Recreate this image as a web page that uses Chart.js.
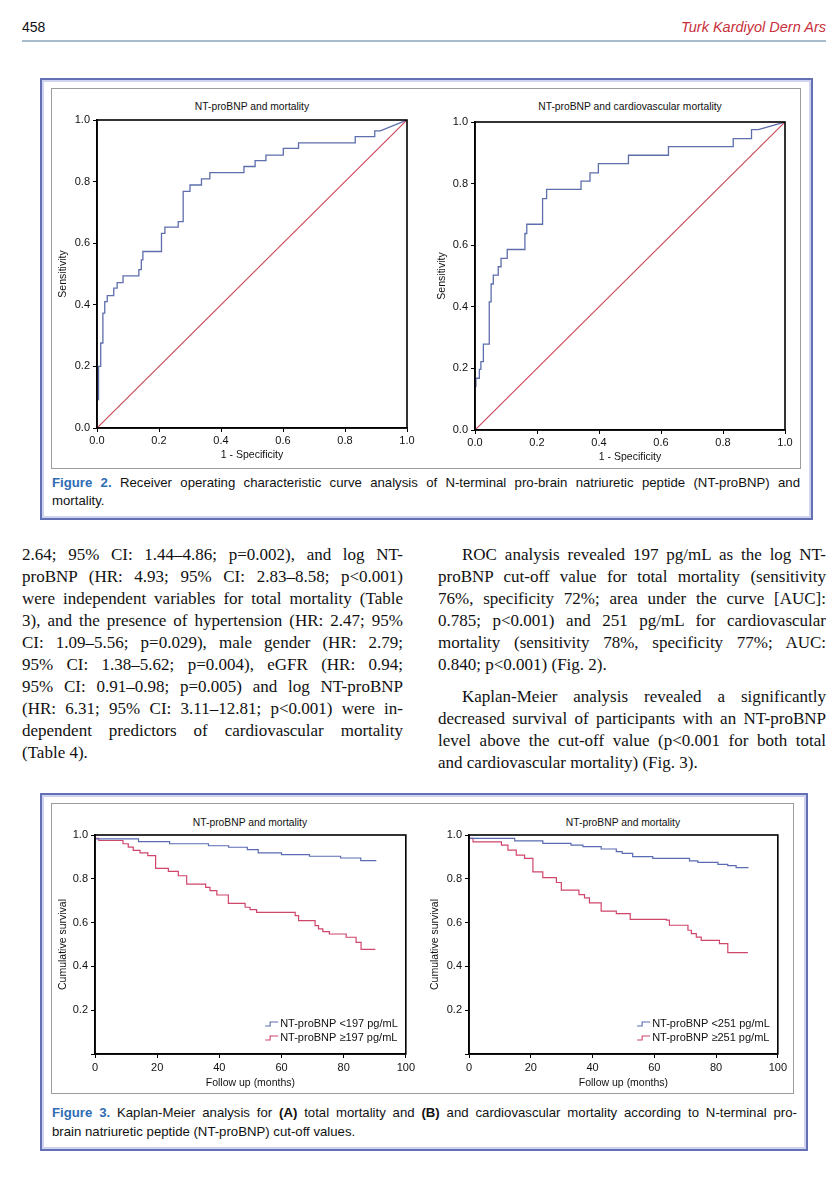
<!DOCTYPE html>
<html><head><meta charset="utf-8">
<script src="https://cdn.jsdelivr.net/npm/chart.js@4.4.1/dist/chart.umd.min.js"></script>
<style>
html,body{margin:0;padding:0;}
body{width:836px;height:1200px;position:relative;background:#fff;overflow:hidden;font-family:"Liberation Sans",Arial,sans-serif;color:#111;}
.abs{position:absolute;}
canvas{position:absolute;}
.bluebox{position:absolute;border:2px solid #6370b4;box-shadow:inset 0 0 0 2px #cfd3ee;box-sizing:border-box;}
.graybox{position:absolute;border:1.5px solid #9c9c9c;box-sizing:border-box;}
.ctitle{position:absolute;font-size:10.3px;line-height:12px;white-space:nowrap;transform:translate(-50%,-50%);color:#111;}
.jl{position:absolute;white-space:nowrap;}
.body{font-family:"Liberation Serif","Times New Roman",serif;font-size:17px;line-height:22px;color:#111;}
.cap{font-size:13.2px;line-height:16px;color:#111;}
.cap b.fig{color:#2f6cb3;}
</style></head><body>

<div class="abs" style="left:22px;top:19px;font-size:14px;line-height:16px;">458</div>
<div class="abs" style="right:10px;top:19px;font-size:14.5px;line-height:16px;font-style:italic;color:#c8303c;">Turk Kardiyol Dern Ars</div>
<div class="abs" style="left:22px;top:40px;width:804px;height:1.5px;background:#aabbca;"></div>

<!-- Figure 2 frame -->
<div class="bluebox" style="left:40px;top:78px;width:773px;height:442px;"></div>
<div class="graybox" style="left:51px;top:88px;width:750px;height:381px;"></div>
<div class="ctitle" style="left:252px;top:107px;">NT-proBNP and mortality</div>
<div class="ctitle" style="left:630px;top:107px;">NT-proBNP and cardiovascular mortality</div>
<canvas id="roc1"></canvas>
<canvas id="roc2"></canvas>
<div class="jl cap" data-w="748" style="left:52px;top:475px;"><b class="fig">Figure 2.</b> Receiver operating characteristic curve analysis of N-terminal pro-brain natriuretic peptide (NT-proBNP) and</div>
<div class="jl cap" style="left:52px;top:493px;">mortality.</div>

<!-- Body text -->
<div class="jl body" data-w="381" style="left:22px;top:544px;">2.64; 95% CI: 1.44–4.86; p=0.002), and log NT-</div>
<div class="jl body" data-w="381" style="left:22px;top:566px;">proBNP (HR: 4.93; 95% CI: 2.83–8.58; p&lt;0.001)</div>
<div class="jl body" data-w="381" style="left:22px;top:588px;">were independent variables for total mortality (Table</div>
<div class="jl body" data-w="381" style="left:22px;top:610px;">3), and the presence of hypertension (HR: 2.47; 95%</div>
<div class="jl body" data-w="381" style="left:22px;top:632px;">CI: 1.09–5.56; p=0.029), male gender (HR: 2.79;</div>
<div class="jl body" data-w="381" style="left:22px;top:654px;">95% CI: 1.38–5.62; p=0.004), eGFR (HR: 0.94;</div>
<div class="jl body" data-w="381" style="left:22px;top:676px;">95% CI: 0.91–0.98; p=0.005) and log NT-proBNP</div>
<div class="jl body" data-w="381" style="left:22px;top:698px;">(HR: 6.31; 95% CI: 3.11–12.81; p&lt;0.001) were in-</div>
<div class="jl body" data-w="381" style="left:22px;top:720px;">dependent predictors of cardiovascular mortality</div>
<div class="jl body" style="left:22px;top:742px;">(Table 4).</div>

<div class="jl body" data-w="364" style="left:462px;top:544px;">ROC analysis revealed 197 pg/mL as the log NT-</div>
<div class="jl body" data-w="388" style="left:438px;top:566px;">proBNP cut-off value for total mortality (sensitivity</div>
<div class="jl body" data-w="388" style="left:438px;top:588px;">76%, specificity 72%; area under the curve [AUC]:</div>
<div class="jl body" data-w="388" style="left:438px;top:610px;">0.785; p&lt;0.001) and 251 pg/mL for cardiovascular</div>
<div class="jl body" data-w="388" style="left:438px;top:632px;">mortality (sensitivity 78%, specificity 77%; AUC:</div>
<div class="jl body" style="left:438px;top:654px;">0.840; p&lt;0.001) (Fig. 2).</div>
<div class="jl body" data-w="364" style="left:462px;top:686px;">Kaplan-Meier analysis revealed a significantly</div>
<div class="jl body" data-w="388" style="left:438px;top:708px;">decreased survival of participants with an NT-proBNP</div>
<div class="jl body" data-w="388" style="left:438px;top:730px;">level above the cut-off value (p&lt;0.001 for both total</div>
<div class="jl body" style="left:438px;top:752px;">and cardiovascular mortality) (Fig. 3).</div>

<!-- Figure 3 frame -->
<div class="bluebox" style="left:40px;top:793px;width:768px;height:358px;"></div>
<div class="graybox" style="left:51px;top:803px;width:743px;height:291px;"></div>
<div class="ctitle" style="left:250px;top:823px;">NT-proBNP and mortality</div>
<div class="ctitle" style="left:623px;top:823px;">NT-proBNP and mortality</div>
<canvas id="km1"></canvas>
<canvas id="km2"></canvas>
<div class="jl cap" data-w="745" style="left:52px;top:1105px;"><b class="fig">Figure 3.</b> Kaplan-Meier analysis for <b>(A)</b> total mortality and <b>(B)</b> and cardiovascular mortality according to N-terminal pro-</div>
<div class="jl cap" style="left:52px;top:1124px;">brain natriuretic peptide (NT-proBNP) cut-off values.</div>

<script>
// ---------- DATA ----------
const rocAxisTicks = [0, 0.2, 0.4, 0.6, 0.8, 1.0];
const kmXTicks = [0, 20, 40, 60, 80, 100];
const kmYTicks = [0.2, 0.4, 0.6, 0.8, 1.0];

// ROC - total mortality (1 - specificity, sensitivity)
const rocTotalFpr = [0.003, 0.005, 0.012, 0.019, 0.025, 0.033, 0.054, 0.065, 0.084, 0.135, 0.143, 0.148, 0.208, 0.219, 0.262, 0.278, 0.300, 0.337, 0.364, 0.474, 0.510, 0.545, 0.601, 0.650, 0.833, 0.896, 0.914, 1.0];
const rocTotalTpr = [0.092, 0.200, 0.276, 0.373, 0.410, 0.430, 0.454, 0.472, 0.494, 0.514, 0.546, 0.573, 0.632, 0.652, 0.670, 0.768, 0.789, 0.809, 0.829, 0.849, 0.868, 0.886, 0.908, 0.926, 0.946, 0.965, 0.965, 1.0];

// ROC - cardiovascular mortality
const rocCvFpr = [0.003, 0.003, 0.014, 0.019, 0.027, 0.046, 0.052, 0.059, 0.075, 0.084, 0.104, 0.161, 0.167, 0.218, 0.231, 0.342, 0.371, 0.398, 0.495, 0.624, 0.833, 0.892, 0.914, 1.0];
const rocCvTpr = [0.140, 0.168, 0.197, 0.222, 0.279, 0.416, 0.474, 0.503, 0.530, 0.557, 0.586, 0.638, 0.668, 0.751, 0.781, 0.808, 0.835, 0.865, 0.892, 0.920, 0.946, 0.975, 0.975, 1.0];

const refLineX = [0, 1];
const refLineY = [0, 1];

// Kaplan-Meier - total mortality
const kmTotalLabels = ['NT-proBNP <197 pg/mL', 'NT-proBNP \u2265197 pg/mL'];
const kmTotalLowT = [0, 14, 24, 36.5, 43, 49, 52.5, 60, 69, 79, 85.5, 89.5, 90.5];
const kmTotalLowS = [1.0, 0.982, 0.970, 0.960, 0.951, 0.944, 0.933, 0.918, 0.910, 0.903, 0.895, 0.883, 0.883];
const kmTotalHighT = [0, 1.2, 9, 10.7, 12.3, 14.5, 17, 19.5, 23.6, 26.8, 29.5, 35.6, 37, 39.2, 42.9, 48.3, 49.9, 52, 64.4, 65.5, 70.8, 71.9, 73.3, 75.4, 80.8, 84, 85.6, 86.7, 90.2];
const kmTotalHighS = [1.0, 0.985, 0.975, 0.960, 0.945, 0.930, 0.918, 0.906, 0.848, 0.834, 0.814, 0.776, 0.761, 0.746, 0.726, 0.688, 0.670, 0.659, 0.647, 0.632, 0.609, 0.586, 0.571, 0.559, 0.548, 0.533, 0.510, 0.478, 0.478];

// Kaplan-Meier - cardiovascular mortality
const kmCvLabels = ['NT-proBNP <251 pg/mL', 'NT-proBNP \u2265251 pg/mL'];
const kmCvLowT = [0, 14.8, 23.9, 33, 36.9, 42.8, 47.7, 49.6, 53, 59.5, 71.4, 74.1, 80.6, 83.8, 86.5, 89.5, 90.5];
const kmCvLowS = [1.0, 0.985, 0.973, 0.962, 0.954, 0.947, 0.936, 0.924, 0.916, 0.901, 0.893, 0.882, 0.875, 0.866, 0.860, 0.851, 0.851];
const kmCvHighT = [0, 1.3, 10.5, 12.6, 15.3, 18, 20.7, 23.9, 28.3, 29.9, 35.6, 37.4, 39, 42.8, 47.7, 52.2, 63.9, 64.9, 70.9, 72, 73.6, 75.2, 81.1, 83.8, 86, 90.3];
const kmCvHighS = [1.0, 0.985, 0.969, 0.954, 0.931, 0.908, 0.893, 0.832, 0.805, 0.783, 0.748, 0.728, 0.713, 0.690, 0.652, 0.641, 0.615, 0.611, 0.588, 0.565, 0.550, 0.534, 0.519, 0.504, 0.463, 0.463];

// ---------- helpers ----------
const BLUE = '#5e6eac', RED = '#cc4a5e', KMBLUE = '#5a6bb2', KMRED = '#d0456a';
Chart.defaults.font.family = '"Liberation Sans", Arial, sans-serif';
Chart.defaults.color = '#111';

function rocPath(xs, ys) {
  const pts = [{x: xs[0], y: ys[0]}];
  for (let i = 1; i < xs.length; i++) {
    if (i < xs.length - 1) pts.push({x: xs[i], y: ys[i - 1]});
    pts.push({x: xs[i], y: ys[i]});
  }
  return pts;
}
function zip(xs, ys) { return xs.map((x, i) => ({x: x, y: ys[i]})); }

const framePlugin = {
  id: 'frame',
  afterDatasetsDraw(chart) {
    const {ctx, chartArea: a} = chart;
    ctx.save(); ctx.strokeStyle = '#000'; ctx.lineWidth = 1.6;
    ctx.strokeRect(a.left, a.top, a.right - a.left, a.bottom - a.top);
    ctx.restore();
  }
};
const kmLegendPlugin = {
  id: 'kmLegend',
  afterDraw(chart) {
    const {ctx, chartArea: a} = chart;
    const ds = chart.data.datasets;
    ctx.save();
    ctx.font = '11px "Liberation Sans", Arial, sans-serif';
    ctx.textBaseline = 'middle';
    const w = Math.max(...ds.map(d => ctx.measureText(d.label).width));
    const tx = a.right - 8 - w;
    ds.forEach((d, i) => {
      const y = a.bottom - 30 + i * 14;
      ctx.fillStyle = '#111';
      ctx.fillText(d.label, tx, y);
      ctx.strokeStyle = d.borderColor; ctx.lineWidth = 1.1;
      ctx.beginPath();
      ctx.moveTo(tx - 15, y + 2); ctx.lineTo(tx - 10, y + 2); ctx.lineTo(tx - 10, y - 2); ctx.lineTo(tx - 2, y - 2);
      ctx.stroke();
    });
    ctx.restore();
  }
};

function axis(opts) {
  return {
    type: 'linear', min: opts.min, max: opts.max,
    afterBuildTicks(s) { s.ticks = opts.ticks.map(v => ({value: v})); },
    ticks: {font: {size: 11}, color: '#111', padding: opts.pad, callback: opts.cb, autoSkip: false, maxRotation: 0},
    grid: {display: true, drawOnChartArea: false, drawTicks: true, tickLength: 4, color: '#000', lineWidth: 1},
    border: {display: true, color: '#000', width: 1.6},
    title: {display: true, text: opts.title, font: {size: 10.5}, color: '#111', padding: 0},
    afterFit: opts.fit
  };
}

function makeChart(id, box, plot, datasets, xo, yo, plugins) {
  const cv = document.getElementById(id);
  cv.width = box.w; cv.height = box.h;
  cv.style.left = box.x + 'px'; cv.style.top = box.y + 'px';
  cv.style.width = box.w + 'px'; cv.style.height = box.h + 'px';
  const yW = plot.l - box.x, xH = box.y + box.h - plot.b;
  xo.fit = s => { s.height = xH; };
  yo.fit = s => { s.width = yW; };
  return new Chart(cv, {
    type: 'scatter',
    data: {datasets: datasets},
    options: {
      responsive: false, animation: false, events: [],
      layout: {padding: {top: plot.t - box.y, right: box.x + box.w - plot.r, left: 0, bottom: 0}},
      plugins: {legend: {display: false}, tooltip: {enabled: false}},
      scales: {x: axis(xo), y: axis(yo)}
    },
    plugins: plugins
  });
}

const fmt1 = v => Number(v).toFixed(1);

function rocDatasets(xs, ys) {
  return [
    {label: 'Reference', data: zip(refLineX, refLineY), showLine: true, borderColor: RED, borderWidth: 1.2, pointRadius: 0},
    {label: 'ROC', data: rocPath(xs, ys), showLine: true, borderColor: BLUE, borderWidth: 1.3, pointRadius: 0}
  ];
}
function kmDatasets(labels, lt, ls, ht, hs) {
  return [
    {label: labels[0], data: zip(lt, ls), showLine: true, stepped: 'after', borderColor: KMBLUE, borderWidth: 1.2, pointRadius: 0},
    {label: labels[1], data: zip(ht, hs), showLine: true, stepped: 'after', borderColor: KMRED, borderWidth: 1.2, pointRadius: 0}
  ];
}

makeChart('roc1', {x: 57, y: 95, w: 362, h: 366}, {l: 97, t: 120, r: 407, b: 428},
  rocDatasets(rocTotalFpr, rocTotalTpr),
  {min: 0, max: 1, ticks: rocAxisTicks, cb: fmt1, title: '1 - Specificity', pad: 2},
  {min: 0, max: 1, ticks: rocAxisTicks, cb: fmt1, title: 'Sensitivity', pad: 3},
  [framePlugin]);

makeChart('roc2', {x: 436, y: 95, w: 361, h: 368}, {l: 475, t: 122, r: 785, b: 430},
  rocDatasets(rocCvFpr, rocCvTpr),
  {min: 0, max: 1, ticks: rocAxisTicks, cb: fmt1, title: '1 - Specificity', pad: 2},
  {min: 0, max: 1, ticks: rocAxisTicks, cb: fmt1, title: 'Sensitivity', pad: 3},
  [framePlugin]);

makeChart('km1', {x: 57, y: 825, w: 361, h: 264}, {l: 95, t: 835, r: 406, b: 1054},
  kmDatasets(kmTotalLabels, kmTotalLowT, kmTotalLowS, kmTotalHighT, kmTotalHighS),
  {min: 0, max: 100, ticks: kmXTicks, cb: v => String(v), title: 'Follow up (months)', pad: 3},
  {min: 0, max: 1, ticks: [0].concat(kmYTicks), cb: v => (v === 0 ? '' : fmt1(v)), title: 'Cumulative survival', pad: 3},
  [framePlugin, kmLegendPlugin]);

makeChart('km2', {x: 429, y: 825, w: 361, h: 264}, {l: 469, t: 835, r: 778, b: 1054},
  kmDatasets(kmCvLabels, kmCvLowT, kmCvLowS, kmCvHighT, kmCvHighS),
  {min: 0, max: 100, ticks: kmXTicks, cb: v => String(v), title: 'Follow up (months)', pad: 3},
  {min: 0, max: 1, ticks: [0].concat(kmYTicks), cb: v => (v === 0 ? '' : fmt1(v)), title: 'Cumulative survival', pad: 3},
  [framePlugin, kmLegendPlugin]);

// ---------- justify text lines ----------
document.querySelectorAll('.jl[data-w]').forEach(el => {
  const target = parseFloat(el.dataset.w);
  const nat = el.getBoundingClientRect().width;
  const spaces = (el.textContent.match(/ /g) || []).length;
  if (spaces > 0) el.style.wordSpacing = ((target - nat) / spaces) + 'px';
});
</script>
</body></html>
